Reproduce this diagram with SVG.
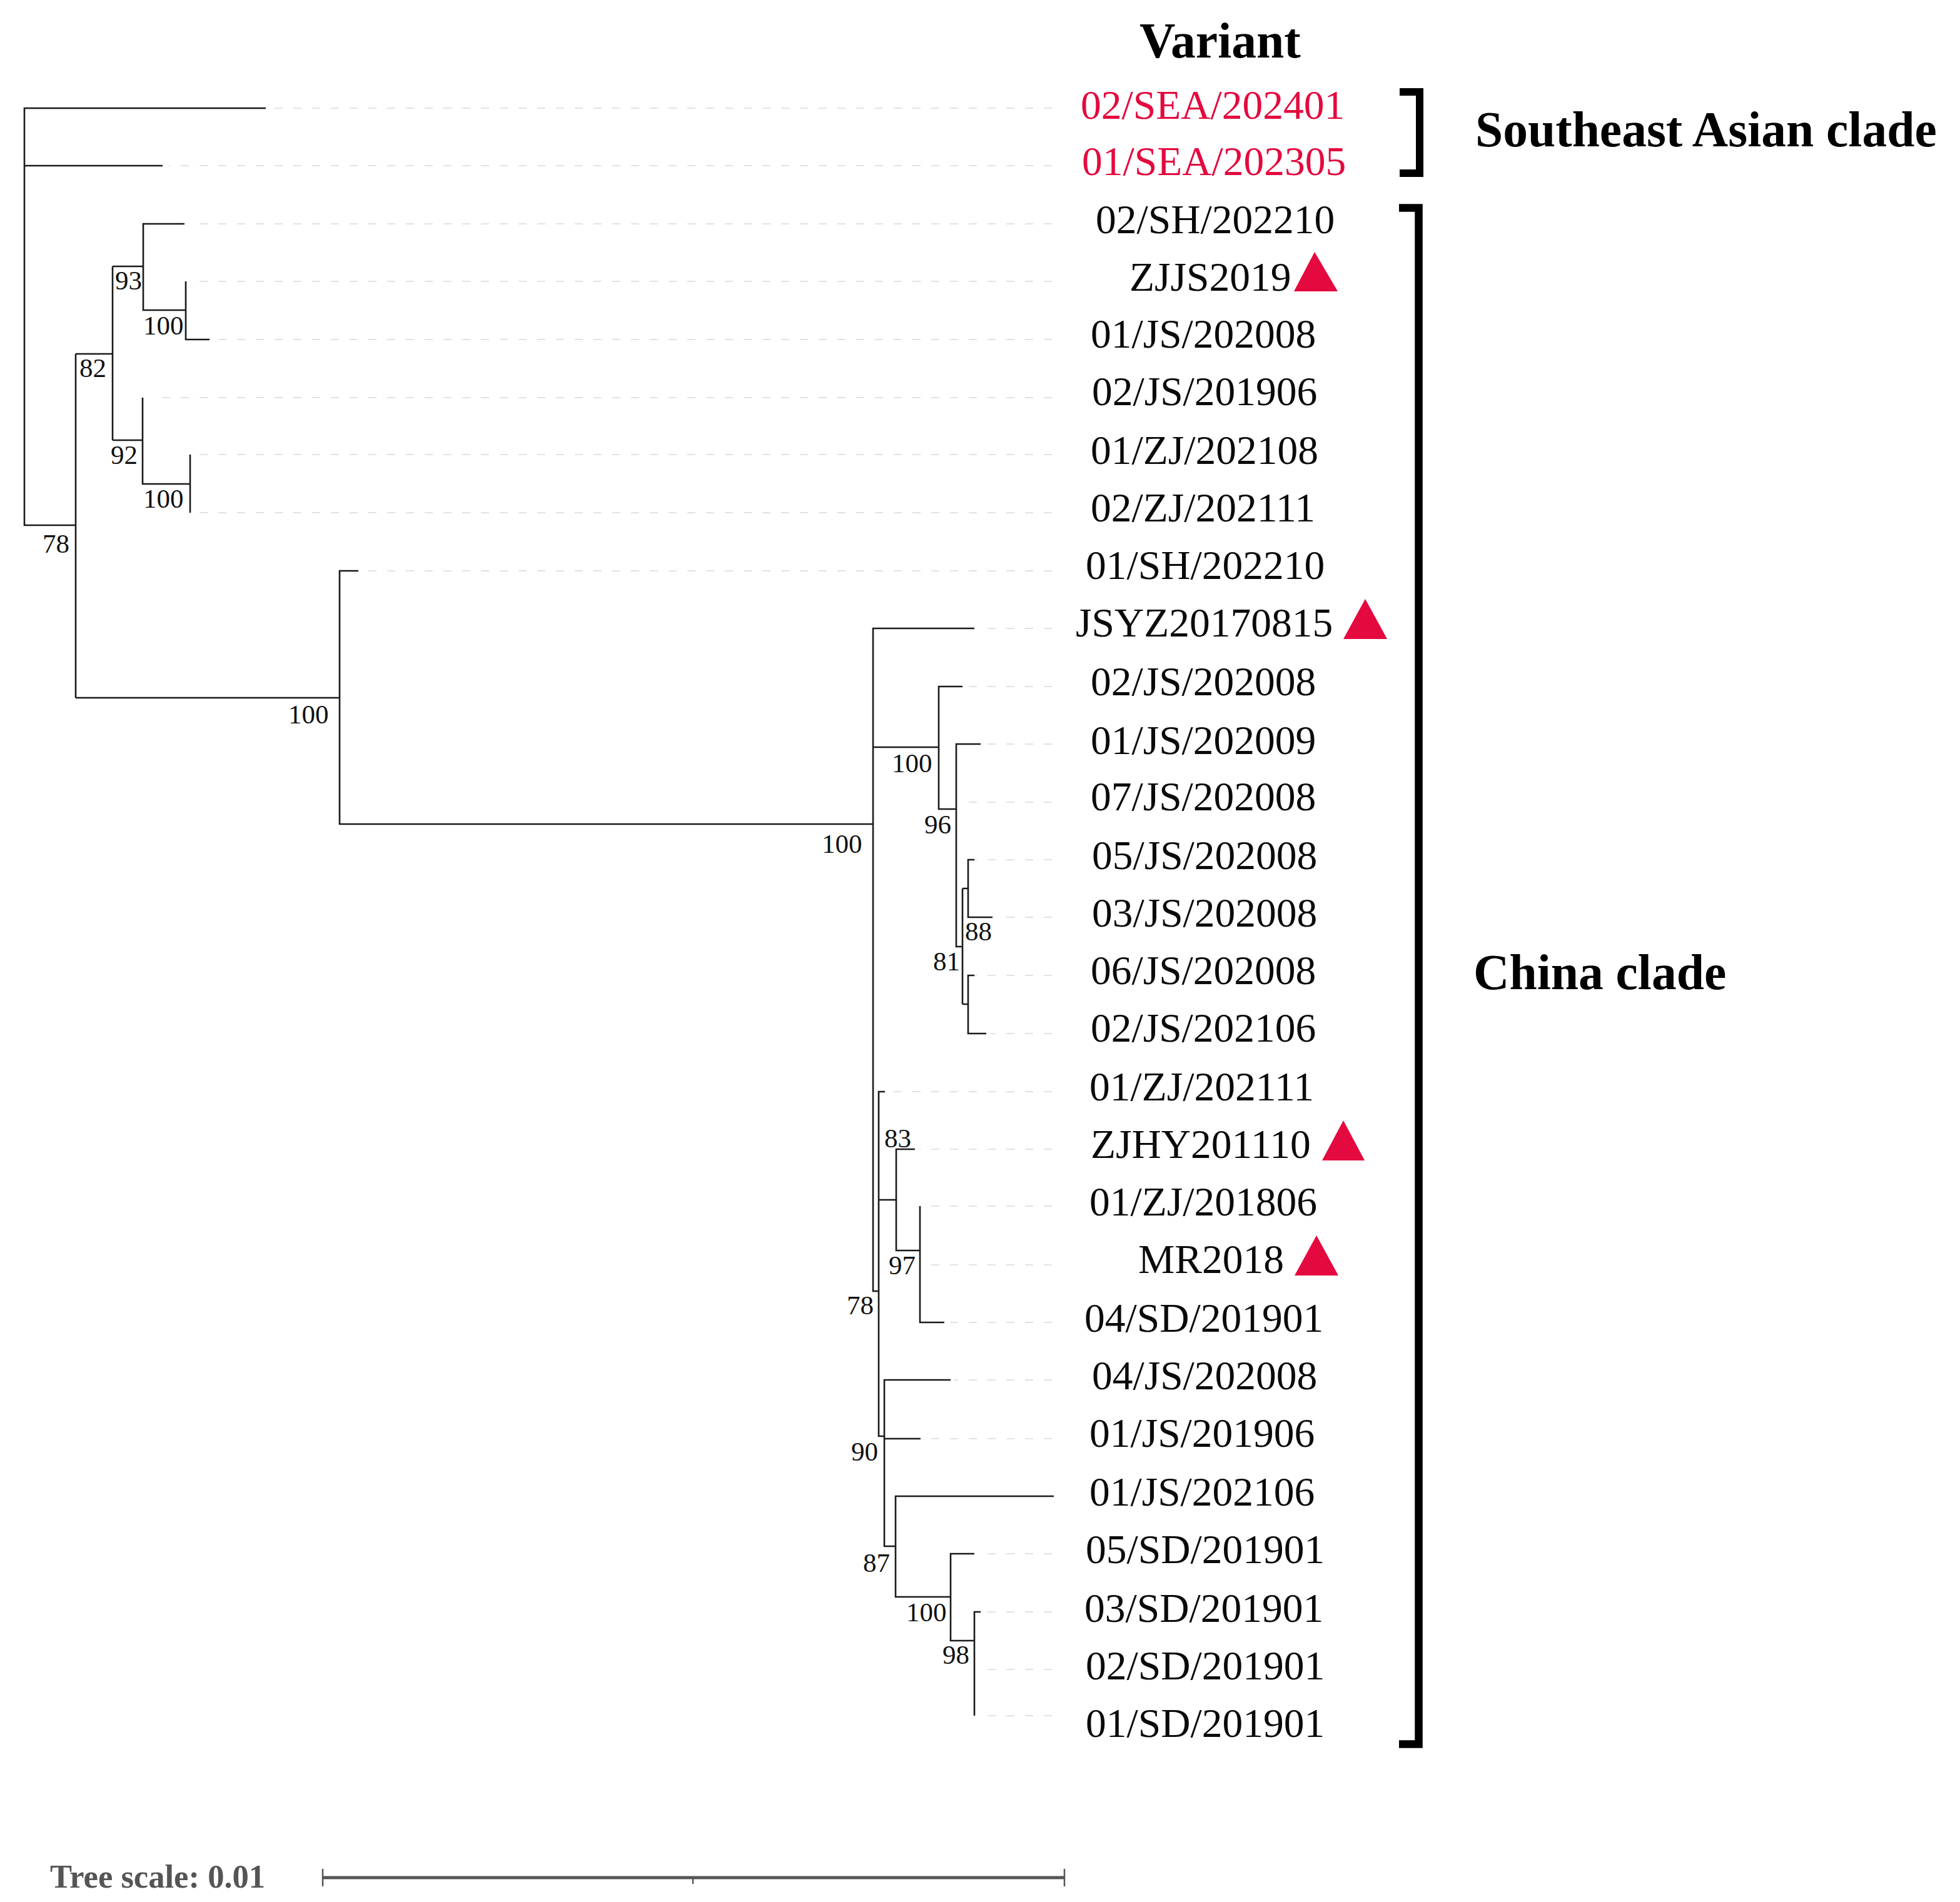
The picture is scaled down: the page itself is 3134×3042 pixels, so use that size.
<svg xmlns="http://www.w3.org/2000/svg" width="3134" height="3042" viewBox="0 0 3134 3042">
<style>
.t{font-family:"Liberation Serif","Times New Roman",serif;font-size:65.5px;fill:#0a0a0a}
.r{fill:#e4093e}
.h{font-family:"Liberation Serif","Times New Roman",serif;font-size:79.5px;font-weight:bold;fill:#000}
.b{font-family:"Liberation Serif","Times New Roman",serif;font-size:43px;fill:#111}
.s{font-family:"Liberation Serif","Times New Roman",serif;font-size:52.6px;font-weight:bold;fill:#555}
.tree{fill:none;stroke:#1a1a1a;stroke-width:2.6}
.dash{fill:none;stroke:#e2e2e2;stroke-width:2;stroke-dasharray:13 17}
.tri{fill:#e4093e}
</style>
<rect width="3134" height="3042" fill="#fff"/>
<g id="connectors">
<path class="dash" d="M1682 173H437M1682 265H270M1682 358H312M1682 450H312M1682 543H339M1682 636H250M1682 727H312M1682 820H312M1682 913H585M1682 1005H1577M1682 1098H1548M1682 1190H1577M1682 1283H1548M1682 1375H1558M1682 1467H1595M1682 1560H1558M1682 1653H1585M1682 1746H1420M1682 1838H1470M1682 1929H1480M1682 2023H1480M1682 2115H1515M1682 2207H1525M1682 2301H1480M1682 2485H1565M1682 2578H1575M1682 2670H1575M1682 2744H1575"/>
<path class="tree" d="M425 173H39V840H121M39 265H260M121 566V1116M121 566H180M180 426V704M180 426H229M295 358H229V496H297M297 450V543H335M180 704H228M228 636V774H304M304 727V820"/>
<path class="tree" d="M121 1116H543M573 913H543V1318H1396M1558 1005H1396V2065H1405M1396 1195H1501M1539 1098H1501V1294H1529M1568 1190H1529V1514H1539M1539 1421V1606M1539 1421H1548M1558 1375H1548V1467H1587M1539 1606H1548M1558 1560H1548V1653H1577"/>
<path class="tree" d="M1415 1746H1405V2297H1414M1405 1919H1433M1463 1838H1433V2000H1471M1471 1929V2115H1510M1520 2207H1414V2473H1432M1414 2301H1472M1685 2393H1432V2554H1520M1558 2485H1520V2624H1558M1568 2578H1558V2744"/>
</g>
<g id="variant-title"><text class="h" x="1822" y="92">Variant</text></g>
<g id="tip-02-SEA-202401"><text class="t r" x="1728" y="190">02/SEA/202401</text></g>
<g id="tip-01-SEA-202305"><text class="t r" x="1730" y="280">01/SEA/202305</text></g>
<g id="tip-02-SH-202210"><text class="t" x="1752" y="373">02/SH/202210</text></g>
<g id="tip-ZJJS2019"><text class="t" x="1806" y="465">ZJJS2019</text><polygon class="tri" points="2102,403 2069,466 2139,466"/></g>
<g id="tip-01-JS-202008"><text class="t" x="1744" y="556">01/JS/202008</text></g>
<g id="tip-02-JS-201906"><text class="t" x="1746" y="648">02/JS/201906</text></g>
<g id="tip-01-ZJ-202108"><text class="t" x="1744" y="742">01/ZJ/202108</text></g>
<g id="tip-02-ZJ-202111"><text class="t" x="1744" y="834">02/ZJ/202111</text></g>
<g id="tip-01-SH-202210"><text class="t" x="1736" y="926">01/SH/202210</text></g>
<g id="tip-JSYZ20170815"><text class="t" x="1720" y="1018">JSYZ20170815</text><polygon class="tri" points="2183,958 2148,1022 2218,1022"/></g>
<g id="tip-02-JS-202008"><text class="t" x="1744" y="1112">02/JS/202008</text></g>
<g id="tip-01-JS-202009"><text class="t" x="1744" y="1206">01/JS/202009</text></g>
<g id="tip-07-JS-202008"><text class="t" x="1744" y="1296">07/JS/202008</text></g>
<g id="tip-05-JS-202008"><text class="t" x="1746" y="1390">05/JS/202008</text></g>
<g id="tip-03-JS-202008"><text class="t" x="1746" y="1482">03/JS/202008</text></g>
<g id="tip-06-JS-202008"><text class="t" x="1744" y="1574">06/JS/202008</text></g>
<g id="tip-02-JS-202106"><text class="t" x="1744" y="1666">02/JS/202106</text></g>
<g id="tip-01-ZJ-202111"><text class="t" x="1742" y="1760">01/ZJ/202111</text></g>
<g id="tip-ZJHY201110"><text class="t" x="1744" y="1852">ZJHY201110</text><polygon class="tri" points="2148,1792 2114,1856 2182,1856"/></g>
<g id="tip-01-ZJ-201806"><text class="t" x="1742" y="1944">01/ZJ/201806</text></g>
<g id="tip-MR2018"><text class="t" x="1820" y="2036">MR2018</text><polygon class="tri" points="2105,1976 2070,2040 2140,2040"/></g>
<g id="tip-04-SD-201901"><text class="t" x="1734" y="2130">04/SD/201901</text></g>
<g id="tip-04-JS-202008"><text class="t" x="1746" y="2222">04/JS/202008</text></g>
<g id="tip-01-JS-201906"><text class="t" x="1742" y="2314">01/JS/201906</text></g>
<g id="tip-01-JS-202106"><text class="t" x="1742" y="2408">01/JS/202106</text></g>
<g id="tip-05-SD-201901"><text class="t" x="1736" y="2500">05/SD/201901</text></g>
<g id="tip-03-SD-201901"><text class="t" x="1734" y="2594">03/SD/201901</text></g>
<g id="tip-02-SD-201901"><text class="t" x="1736" y="2686">02/SD/201901</text></g>
<g id="tip-01-SD-201901"><text class="t" x="1736" y="2778">01/SD/201901</text></g>
<g id="bootstrap">
<text class="b" x="184" y="463">93</text><text class="b" x="229" y="535">100</text><text class="b" x="127" y="603">82</text><text class="b" x="177" y="742">92</text><text class="b" x="229" y="812">100</text><text class="b" x="68" y="884">78</text><text class="b" x="461" y="1157">100</text><text class="b" x="1314" y="1364">100</text><text class="b" x="1426" y="1235">100</text><text class="b" x="1478" y="1333">96</text><text class="b" x="1543" y="1504">88</text><text class="b" x="1492" y="1552">81</text><text class="b" x="1414" y="1835">83</text><text class="b" x="1421" y="2038">97</text><text class="b" x="1354" y="2102">78</text><text class="b" x="1361" y="2336">90</text><text class="b" x="1380" y="2514">87</text><text class="b" x="1449" y="2593">100</text><text class="b" x="1507" y="2661">98</text>
</g>
<g id="clade-southeast-asian"><path d="M2238 147H2270V277H2238" fill="none" stroke="#000" stroke-width="12"/><text class="h" x="2359" y="234">Southeast Asian clade</text></g>
<g id="clade-china"><path d="M2237 332.500H2268.500V2789.500H2237" fill="none" stroke="#000" stroke-width="12.500"/><text class="h" x="2356" y="1582">China clade</text></g>
<g id="tree-scale"><text class="s" x="80" y="3019">Tree scale: 0.01</text><path d="M516 3003H1702" fill="none" stroke="#555" stroke-width="5"/><path d="M516 2989V3017M1702 2989V3017M1108 3003V3013" fill="none" stroke="#555" stroke-width="2.5"/></g>
</svg>
